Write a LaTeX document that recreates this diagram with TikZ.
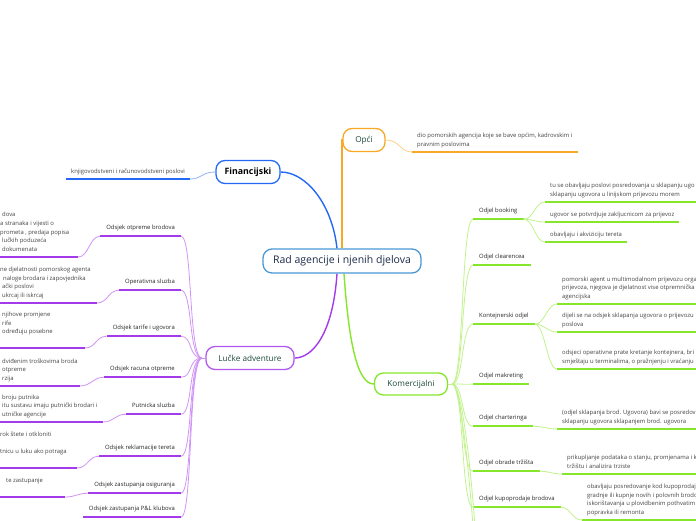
\documentclass[tikz,border=0pt]{standalone}
\usepackage{fontspec}
\setmainfont{Open Sans}
\usetikzlibrary{backgrounds}
\definecolor{dkgreen}{HTML}{1D4A3C}
\definecolor{navy}{HTML}{1C2B4A}
\definecolor{txtgray}{HTML}{444444}
\definecolor{cblue}{HTML}{4A98D6}
\definecolor{bmain}{HTML}{2469F5}
\definecolor{blight}{HTML}{8FB2F8}
\definecolor{omain}{HTML}{F9A825}
\definecolor{olight}{HTML}{FCD08A}
\definecolor{pmain}{HTML}{A43BEB}
\definecolor{plight}{HTML}{CF93F5}
\definecolor{gmain}{HTML}{86E62C}
\definecolor{glight}{HTML}{C2F28E}
\begin{document}
\begin{tikzpicture}[x=1pt,y=-1pt,
  mainbox/.style={draw, rounded corners=9pt, line width=1.3pt, fill=white, minimum height=23pt, inner sep=0pt, font=\fontsize{8.2}{9}\selectfont, text=dkgreen},
  subL/.style={anchor=east, font=\fontsize{5.9}{6.6}\selectfont, text=black!85, text height=4.2pt, text depth=1.3pt, inner xsep=6pt, inner ysep=5.3pt},
  subR/.style={subL, anchor=west},
  det/.style={anchor=south west, align=left, font=\fontsize{5.9}{8.6}\selectfont, text=txtgray, inner xsep=5pt, inner ysep=3pt, execute at end node=\strut},
  ul/.style={line width=1.8pt},
  thin/.style={line width=0.8pt},
  main/.style={line width=1.4pt}
]
\useasboundingbox (0,0) rectangle (696,520);
\clip (0,0) rectangle (696,520);

% main boxes
\node[mainbox, draw=cblue, minimum width=158pt, minimum height=24pt, text=navy, font=\fontsize{10.5}{12}\selectfont] (c) at (342,261) {Rad agencije i njenih djelova};
\node[mainbox, draw=omain, minimum width=42pt] (opci) at (364,140) {Opći};
\node[mainbox, draw=bmain, minimum width=64pt, text=black, font=\fontsize{8.8}{10}\selectfont\bfseries] (fin) at (248,172) {Financijski};
\node[mainbox, draw=pmain!85, minimum width=88pt] (lucke) at (250,358) {Lučke adventure};
\node[mainbox, draw=gmain, minimum width=73pt, minimum height=22pt] (kom) at (411,384) {Komercijalni};

\coordinate (jl) at (202,358);
\coordinate (jr) at (452,384);

% Opci detail
\node[det] (o1) at (412,152) {dio pomorskih agencija koje se bave općim, kadrovskim i\\pravnim poslovima};
% Financijski detail
\node[det] (f1) at (66,179) {knjigovodstveni i računovodstveni poslovi};

% left sub nodes
\node[subL] (l1) at (181,228) {Odsjek otpreme brodova};
\node[subL] (l2) at (181,282) {Operativna sluzba};
\node[subL] (l3) at (181,328) {Odsjek tarife i ugovora};
\node[subL] (l4) at (181,369) {Odsjek racuna otpreme};
\node[subL] (l5) at (181,406) {Putnicka sluzba};
\node[subL] (l6) at (181,448) {Odsjek reklamacije tereta};
\node[subL] (l7) at (181,485) {Odsjek zastupanja osiguranja};
\node[subL] (l8) at (181,509) {Odsjek zastupanja P\&L klubova};

% left details
\coordinate (d1e) at (78,257);
\coordinate (d2e) at (97,303);
\coordinate (d3e) at (85,348);
\coordinate (d4e) at (80,386);
\coordinate (d5e) at (103,422);
\coordinate (d6e) at (77,468);
\coordinate (d7e) at (65,497);
\node[det] (d1) at (-5,257) {\hspace{2pt}dova\\a stranaka i vijesti o\\prometa , predaja popisa\\\hspace{2pt}lučkih poduzeća\\\hspace{2pt}dokumenata};
\node[det] (d2) at (-5,303) {ne djelatnosti pomorskog agenta\\\hspace{3pt}naloge brodara i zapovjednika\\\hspace{2pt}ački poslovi\\\hspace{2pt}ukrcaj ili iskrcaj};
\node[det] (d3) at (-5,348) {\hspace{2pt}njihove promjene\\\hspace{2pt}rife\\\hspace{2pt}određuju posebne\\ };
\node[det] (d4) at (-5,386) {\hspace{2pt}dviđenim troškovima broda\\\hspace{2pt}otpreme\\\hspace{2pt}rzija};
\node[det] (d5) at (-5,422) {\hspace{2pt}broju putnika\\\hspace{2pt}itu sustavu imaju putnički brodari i\\\hspace{2pt}utničke agencije};
\node[det] (d6) at (-5,468) {rok štete i otkloniti\\ \\tnicu u luku ako potraga\\ };
\node[det] (d7) at (-5,497) {\hspace{6pt}te zastupanje\\ };

% right sub nodes
\node[subR] (r1) at (473,211) {Odjel booking};
\node[subR] (r2) at (473,257) {Odjel clearencea};
\node[subR] (r3) at (473,316) {Kontejnerski odjel};
\node[subR] (r4) at (473,376) {Odjel makreting};
\node[subR] (r5) at (473,418) {Odjel charteringa};
\node[subR] (r6) at (473,463) {Odjel obrade tržišta};
\node[subR] (r7) at (473,499) {Odjel kupoprodaje brodova};
\coordinate (r8) at (476,545);
\coordinate (r9) at (476,580);

% right details
\node[det] (b1) at (545,202) {tu se obavljaju poslovi posredovanja u sklapanju ugo\\sklapanju ugovora u linijskom prijevozu morem};
\node[det] (b2) at (545,222) {ugovor se potvrdjuje zakljucnicom za prijevoz};
\node[det] (b3) at (545,242) {obavljaju i akviziciju tereta};
\node[det] (k1) at (557,304) {pomorski agent u multimodalnom prijevozu orga\\prijevoza, njegova je djelatnost vise otpremnička\\agencijska};
\node[det] (k2) at (557,332) {dijeli se na odsjek sklapanja ugovora o prijevozu\\poslova};
\node[det] (k3) at (557,369) {odsjeci operativne prate kretanje kontejnera, bri\\smještaju u terminalima, o pražnjenju i vraćanju};
\node[det] (h1) at (557,429) {(odjel sklapanja brod. Ugovora) bavi se posredov\\sklapanju ugovora sklapanjem brod. ugovora};
\node[det] (t1) at (562,474) {prikupljanje podataka o stanju, promjenama i k\\tržištu i analizira trziste};
\node[det] (p1) at (582,520) {obavljaju posredovanje kod kupoprodaj\\gradnje ili kupnje novih i polovnih brodo\\iskorištavanja u plovidbenim pothvatim\\popravka ili remonta};

\begin{pgfonlayer}{background}
% main connectors
\draw[main, draw=omain] (c.north) |- (opci.west);
\draw[main, draw=bmain] ([xshift=-5pt]c.north) .. controls +(-5,-45) and +(25,0) .. (fin.east);
\draw[main, draw=pmain] ([xshift=-5pt]c.south) .. controls +(-4,60) and +(18,0) .. (lucke.east);
\draw[main, draw=gmain] ([xshift=2pt]c.south) .. controls +(5,72) and +(-16,0) .. (kom.west);

% Opci / Financijski details
\draw[thin, draw=olight] (opci.east) .. controls +(14,0) and +(-12,0) .. (o1.south west);
\draw[ul, draw=omain] (o1.south west) -- (o1.south east);
\draw[thin, draw=blight] (fin.west) .. controls +(-14,0) and +(12,0) .. (f1.south east);
\draw[ul, draw=bmain] (f1.south west) -- (f1.south east);

% left branch
\draw[thin, draw=plight] (lucke.west) -- (jl);
\foreach \n in {l1,l2,l3,l4,l5,l6,l7,l8}{
  \draw[thin, draw=plight] (jl) .. controls +(-14,0) and +(12,0) .. (\n.south east);
  \draw[ul, draw=pmain] (\n.south west) -- (\n.south east);
}
\foreach \n/\d in {l1/d1,l2/d2,l3/d3,l4/d4,l5/d5,l6/d6,l7/d7}{
  \draw[thin, draw=plight] (\n.south west) .. controls +(-11,0) and +(11,0) .. (\d e);
  \draw[ul, draw=pmain] (\d.south west) -- (\d e);
}

% right branch
\draw[thin, draw=glight] (kom.east) -- (jr);
\foreach \n in {r1,r2,r3,r4,r5,r6,r7}{
  \draw[thin, draw=glight] (jr) .. controls +(12,0) and +(-12,0) .. (\n.south west);
  \draw[ul, draw=gmain] (\n.south west) -- (\n.south east);
}
\draw[thin, draw=glight] (jr) .. controls +(12,0) and +(-2,-40) .. (r8);
\draw[thin, draw=glight] (jr) .. controls +(10,0) and +(-2,-60) .. (r9);
\foreach \n/\d in {r1/b1,r1/b2,r1/b3,r3/k1,r3/k2,r3/k3,r5/h1,r6/t1,r7/p1}{
  \draw[thin, draw=glight] (\n.south east) .. controls +(10,0) and +(-10,0) .. (\d.south west);
  \draw[ul, draw=gmain] (\d.south west) -- (\d.south east);
}
\end{pgfonlayer}
\end{tikzpicture}
\end{document}
